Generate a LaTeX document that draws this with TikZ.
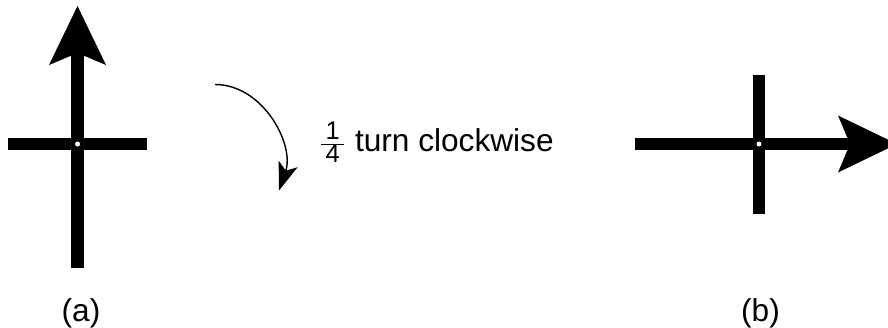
\documentclass[tikz,border=0pt]{standalone}
\usepackage{fontspec}
\setmainfont{Liberation Sans}
\usetikzlibrary{arrows.meta}

\newcommand{\fracdigit}[1]{\hbox{\fontsize{14.5}{15}\selectfont\,#1\,}}

\begin{document}
\begin{tikzpicture}[every node/.style={font=\fontsize{18}{22}\selectfont, inner sep=0pt},
  bar/.style={line width=0.25cm},
  bigtip/.style={-{Stealth[length=1.18cm, width=1.14cm, inset=0.24cm, line width=0pt]}},
  pivot/.style={fill=white}]
  \path[use as bounding box, clip] (0,0) rectangle (17.76,6.54);

  % (a) pointing up
  \draw[bar] (0.16,3.66) -- (2.94,3.66);
  \draw[bar, bigtip] (1.55,1.18) -- (1.55,6.42);
  \fill[pivot] (1.55,3.66) circle (0.05);
  \node[anchor=base] (labela) at (1.62,0.12) {(a)};

  % quarter turn
  \coordinate (turnstart) at (4.30,4.85);
  \coordinate (turnend) at (5.58,2.73);
  \draw[line width=0.8pt, -{Stealth[length=0.56cm, width=0.4cm, inset=0.14cm]}]
    (turnstart) to[out=0, in=71] (turnend);
  \node[anchor=base west] (turnlabel) at (6.38,3.51) {$\frac{\fracdigit{1}}{\fracdigit{4}}$ turn clockwise};

  % (b) pointing right
  \draw[bar] (15.18,5.05) -- (15.18,2.27);
  \draw[bar, bigtip] (12.70,3.66) -- (17.94,3.66);
  \fill[pivot] (15.18,3.66) circle (0.05);
  \node[anchor=base] (labelb) at (15.21,0.12) {(b)};
\end{tikzpicture}
\end{document}
